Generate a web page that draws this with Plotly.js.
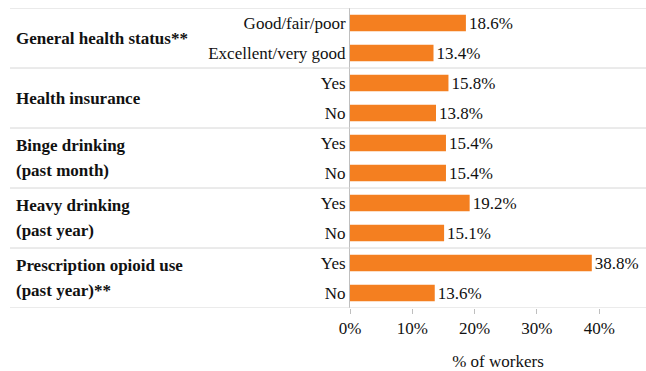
<!DOCTYPE html>
<html>
<head>
<meta charset="utf-8">
<script src="https://cdn.plot.ly/plotly-3.0.1.min.js"></script>
<style>
html,body{margin:0;padding:0;background:#fff;}
#chart text, #chart tspan { font-family: 'Liberation Serif', 'Times New Roman', serif !important; }
</style>
</head>
<body>
<div id="chart"></div>
<script>
// Data
var groupLabels = [
  ["General health status**"],
  ["Health insurance"],
  ["Binge drinking", "(past month)"],
  ["Heavy drinking", "(past year)"],
  ["Prescription opioid use", "(past year)**"]
];
var groupSizes = [2, 2, 2, 2, 2];
var subLabels = ["Good/fair/poor", "Excellent/very good", "Yes", "No", "Yes", "No", "Yes", "No", "Yes", "No"];
var values = [18.6, 13.4, 15.8, 13.8, 15.4, 15.4, 19.2, 15.1, 38.8, 13.6];
var xTicks = [0, 10, 20, 30, 40];
var xTickText = ["0%", "10%", "20%", "30%", "40%"];
var xTitle = "% of workers";

var W = 646, L = 350, R = 0, T = 8, B = 63;
var plotW = W - L - R;
function px2paper(p) { return (p - L) / plotW; }

var FONT = "Times New Roman";
var TXT = "#111111";
var idx = subLabels.map(function (_, i) { return i; });

var trace = {
  type: "bar",
  orientation: "h",
  x: values,
  y: idx,
  width: 0.55,
  marker: { color: "#F47F20" },
  text: values.map(function (v) { return v.toFixed(1) + "%"; }),
  textposition: "outside",
  constraintext: "none",
  textfont: { family: FONT, size: 17, color: TXT },
  cliponaxis: false,
  hoverinfo: "skip"
};

var shapes = [];
var annotations = [];
var start = 0;
var bounds = [-0.5];
groupSizes.forEach(function (n, g) {
  var center = start + (n - 1) / 2;
  var lines = groupLabels[g];
  var lh = 25;
  lines.forEach(function (t, k) {
    annotations.push({
      xref: "paper", yref: "y",
      x: px2paper(14), y: center,
      xanchor: "left", yanchor: "middle",
      yshift: -((k - (lines.length - 1) / 2) * lh),
      text: "<b>" + t + "</b>",
      showarrow: false,
      font: { family: FONT, size: 17, color: TXT }
    });
  });
  start += n;
  bounds.push(start - 0.5);
});
bounds.forEach(function (b) {
  shapes.push({
    type: "line", xref: "paper", yref: "y",
    x0: px2paper(10), x1: 1, y0: b, y1: b,
    line: { color: "#d6d6d6", width: 1 }
  });
});

var layout = {
  width: W, height: 371,
  margin: { l: L, r: R, t: T, b: B },
  paper_bgcolor: "#fff", plot_bgcolor: "#fff",
  showlegend: false,
  font: { family: FONT, size: 17, color: TXT },
  xaxis: {
    range: [0, 47.5],
    tickvals: xTicks, ticktext: xTickText,
    showgrid: false, zeroline: false, showline: false,
    ticks: "outside", ticklen: 5, tickcolor: "#bfbfbf", tickwidth: 1,
    tickfont: { family: FONT, size: 17, color: TXT },
    title: { text: xTitle, standoff: 24, font: { family: FONT, size: 17, color: TXT } },
    fixedrange: true
  },
  yaxis: {
    range: [subLabels.length - 0.5, -0.5],
    tickvals: idx, ticktext: subLabels,
    showgrid: false, zeroline: false,
    showline: true, linecolor: "#bfbfbf", linewidth: 1,
    ticks: "", ticklabelstandoff: 0,
    tickfont: { family: FONT, size: 17, color: TXT },
    fixedrange: true
  },
  shapes: shapes,
  annotations: annotations
};

Plotly.newPlot("chart", [trace], layout, { displayModeBar: false });
</script>
</body>
</html>
